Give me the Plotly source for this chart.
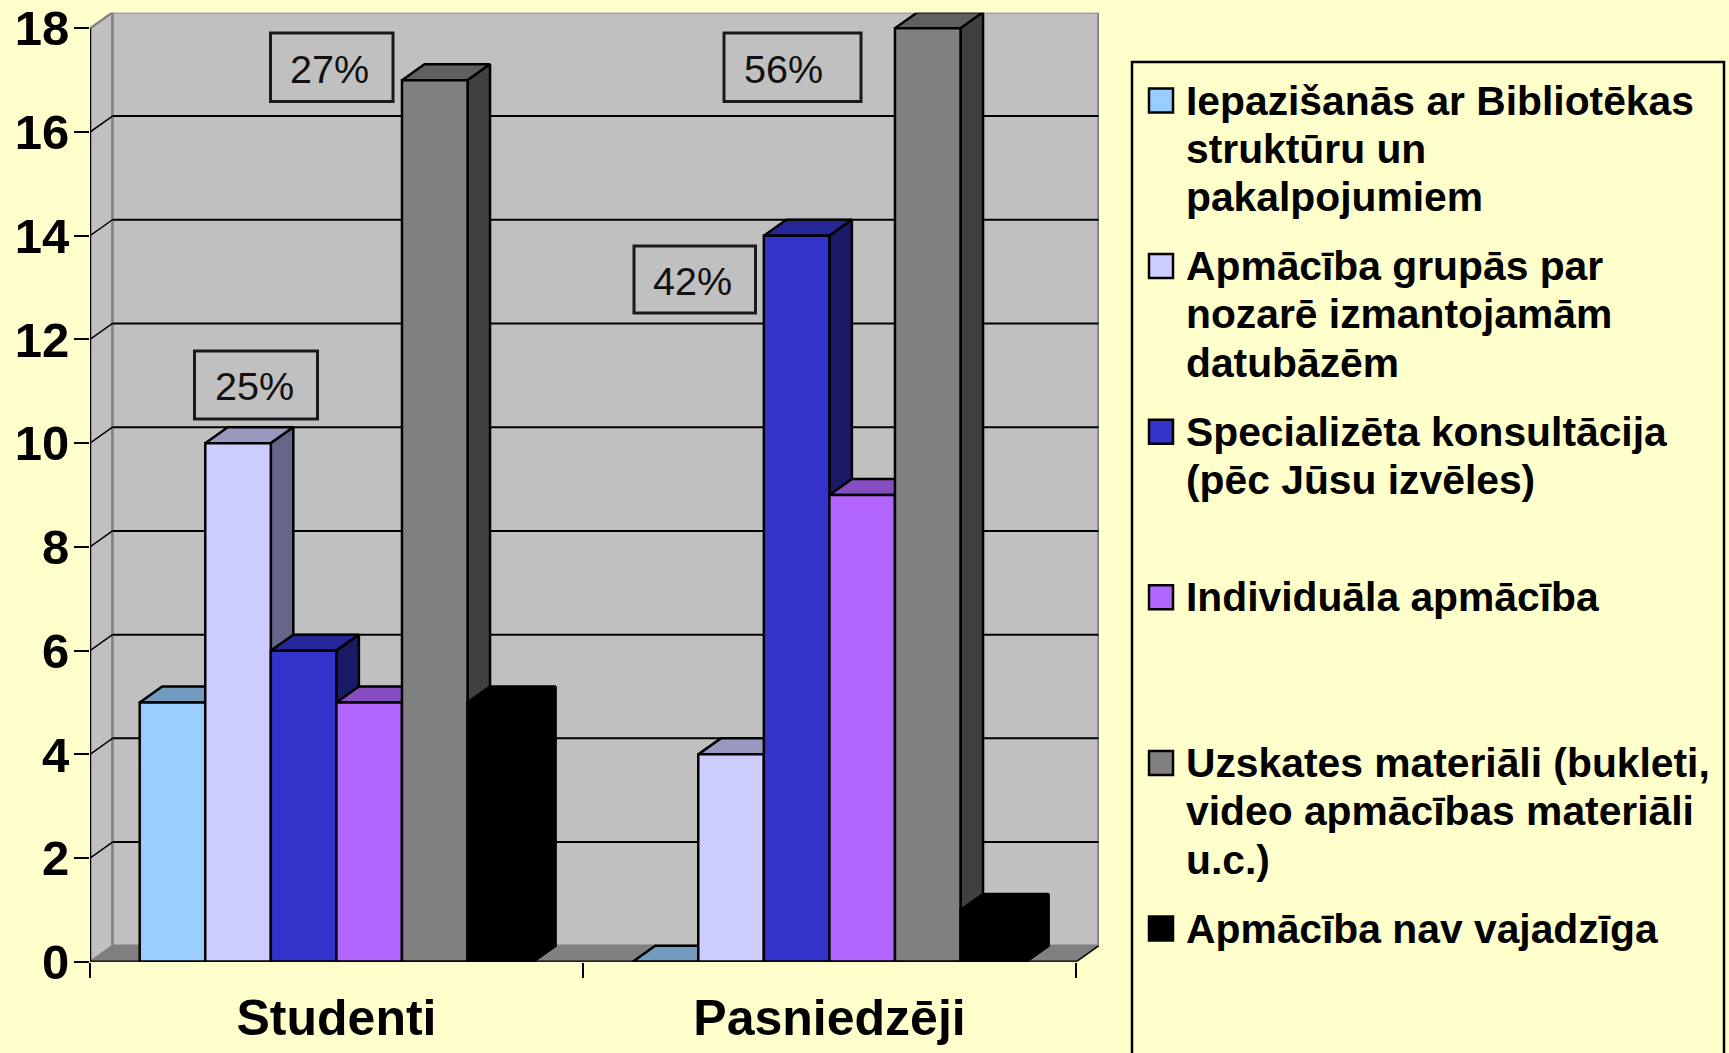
import plotly.graph_objects as go

# ---- data ----
categories = ["Studenti", "Pasniedzēji"]
series_names = ["Iepazišanās ar Bibliotēkas struktūru un pakalpojumiem",
                "Apmācība grupās par nozarē izmantojamām datubāzēm",
                "Specializēta konsultācija (pēc Jūsu izvēles)",
                "Individuāla apmācība",
                "Uzskates materiāli (bukleti, video apmācības materiāli u.c.)",
                "Apmācība nav vajadzīga"]
legend_lines = [["Iepazišanās ar Bibliotēkas", "struktūru un", "pakalpojumiem"],
                ["Apmācība grupās par", "nozarē izmantojamām", "datubāzēm"],
                ["Specializēta konsultācija", "(pēc Jūsu izvēles)"],
                ["Individuāla apmācība"],
                ["Uzskates materiāli (bukleti,", "video apmācības materiāli", "u.c.)"],
                ["Apmācība nav vajadzīga"]]
studenti = [5, 10, 6, 5, 17, 5]
pasniedzeji = [0, 4, 14, 9, 18, 1]
values = [studenti, pasniedzeji]
y_ticks = [0, 2, 4, 6, 8, 10, 12, 14, 16, 18]
callout_text = ["25%", "27%", "42%", "56%"]

# ---- style ----
W, H = 1729, 1053
BG = "#FFFFCC"
WALL = "#C0C0C0"
FLOOR = "#808080"
front = ["#99CCFF", "#CCCCFF", "#3333CC", "#B266FF", "#808080", "#000000"]
top = ["#739ABF", "#9999BF", "#262699", "#854DBF", "#606060", "#000000"]
side = ["#4D6680", "#66668A", "#1A1A66", "#593380", "#404040", "#000000"]
FONT = "Liberation Sans"

# plot area in pixels
L, R, T, B = 90, 1099, 12.7, 961.8
CAT_PX = 493.0
UNIT_PX = 51.86
DX = 22.5 / CAT_PX
DY = 16.0 / UNIT_PX
XMAX = (R - L) / CAT_PX
YMAX = (B - T) / UNIT_PX
BAR_START = 0.1008
BAR_W = 0.133

fig = go.Figure()


def poly(xs, ys, fill, line="#000000", lw=2.5):
    fig.add_trace(go.Scatter(
        x=xs + [xs[0]], y=ys + [ys[0]], mode="lines", fill="toself", fillcolor=fill,
        line=dict(color=line, width=lw), hoverinfo="skip", showlegend=False, cliponaxis=False))


def seg(xs, ys, color="#000000", lw=2.0):
    fig.add_trace(go.Scatter(
        x=xs, y=ys, mode="lines", line=dict(color=color, width=lw),
        hoverinfo="skip", showlegend=False, cliponaxis=False))


# walls and floor
ymax_val = y_ticks[-1]
xend = len(categories)
poly([0, DX, DX, 0], [0, DY, ymax_val + DY, ymax_val], WALL, "#808080", 2)
poly([DX, xend + DX, xend + DX, DX], [DY, DY, ymax_val + DY, ymax_val + DY], WALL, "#808080", 2.5)
poly([0, DX, xend + DX, xend], [0, DY, DY, 0], FLOOR, "#808080", 1.5)

# gridlines on the back wall and the diagonals on the side wall
for t in y_ticks[1:-1]:
    seg([DX, xend + DX], [t + DY, t + DY], "#000000", 2)
for t in y_ticks[1:]:
    seg([0, DX], [t, t + DY], "#000000" if t < ymax_val else "#808080", 1.5)

# bars: top, side, front, painted left to right
for c, vals in enumerate(values):
    for s, v in enumerate(vals):
        x0 = c + BAR_START + s * BAR_W
        x1 = x0 + BAR_W
        poly([x0, x1, x1 + DX, x0 + DX], [v, v, v + DY, v + DY], top[s])
        if v > 0:
            poly([x1, x1 + DX, x1 + DX, x1], [0, DY, v + DY, v], side[s])
            poly([x0, x1, x1, x0], [0, 0, v, v], front[s])

# axis lines
seg([0, 0], [0, ymax_val], "#000000", 2.5)
seg([0, xend], [0, 0], "#000000", 2.5)
seg([xend, xend + DX], [0, DY], "#000000", 1.5)

# legend swatches on their own hidden axes
LEG_L, LEG_R, LEG_T = 1132, 1724, 62
ROW0_PX, ROW_PX = 100.5, 165.6
LINE_PX = 48.3
for i, name in enumerate(series_names):
    fig.add_trace(go.Scatter(
        x=[(1161 - LEG_L)], y=[i], mode="markers", name=name, showlegend=False,
        xaxis="x2", yaxis="y2", hoverinfo="name", cliponaxis=False,
        marker=dict(symbol="square", size=24, color=front[i], line=dict(color="#000000", width=2.5))))

annotations = []
for i, lines in enumerate(legend_lines):
    for j, txt in enumerate(lines):
        annotations.append(dict(
            xref="paper", yref="paper", x=1184 / W, y=1 - (ROW0_PX + i * ROW_PX + j * LINE_PX) / H,
            xanchor="left", yanchor="middle", align="left", showarrow=False, text="<b>%s</b>" % txt,
            font=dict(family=FONT, size=40.8, color="#000000")))

# callouts
call_box = [(194.5, 317.5, 351, 419), (270.5, 393, 33, 101.5), (634, 755.5, 246, 313), (724, 861, 33, 101.5)]
call_pos = [(254, 386), (329, 68.5), (692.5, 280.5), (783, 68.5)]
shapes = []
for (a, b, c, d), (tx, ty), label in zip(call_box, call_pos, callout_text):
    shapes.append(dict(type="rect", xref="paper", yref="paper", x0=a / W, x1=b / W,
                       y0=1 - c / H, y1=1 - d / H, line=dict(color="#1A1A1A", width=3)))
    annotations.append(dict(xref="paper", yref="paper", x=tx / W, y=1 - ty / H, xanchor="center",
                            yanchor="middle", showarrow=False, text=label,
                            font=dict(family=FONT, size=39.5, color="#111111")))

# legend frame
shapes.append(dict(type="rect", xref="paper", yref="paper", x0=LEG_L / W, x1=LEG_R / W,
                   y0=-0.05, y1=1 - LEG_T / H, line=dict(color="#000000", width=2.5)))

fig.update_layout(
    width=W, height=H, margin=dict(l=0, r=0, t=0, b=0), autosize=False,
    paper_bgcolor=BG, plot_bgcolor=BG, showlegend=False,
    font=dict(family=FONT, color="#000000"),
    shapes=shapes, annotations=annotations,
    xaxis=dict(domain=[L / W, R / W], range=[0, XMAX], showgrid=False, zeroline=False, automargin=False,
               showline=False, tickmode="array", tickvals=[i + 0.5 for i in range(len(categories))],
               ticktext=categories, ticks="", ticklabelstandoff=22,
               tickfont=dict(family=FONT, size=50, color="#000000", weight="bold"),
               minor=dict(tickmode="array", tickvals=list(range(len(categories) + 1)), ticks="outside",
                          ticklen=15, tickwidth=2, tickcolor="#000000")),
    yaxis=dict(domain=[1 - B / H, 1 - T / H], range=[0, YMAX], showgrid=False, zeroline=False, automargin=False,
               showline=False, tickmode="array", tickvals=y_ticks, ticks="outside", ticklen=15,
               tickwidth=2, tickcolor="#000000", ticklabelstandoff=-5,
               tickfont=dict(family=FONT, size=49, color="#000000", weight="bold")),
    xaxis2=dict(domain=[LEG_L / W, LEG_R / W], range=[0, LEG_R - LEG_L], visible=False, anchor="y2", automargin=False),
    yaxis2=dict(domain=[0, 1 - LEG_T / H], range=[(H - ROW0_PX) / ROW_PX, (LEG_T - ROW0_PX) / ROW_PX],
                visible=False, anchor="x2", automargin=False),
)

fig.write_html("out.html", config={"displayModeBar": False},
               post_script="document.body.style.margin='0';document.body.style.overflow='hidden';")
